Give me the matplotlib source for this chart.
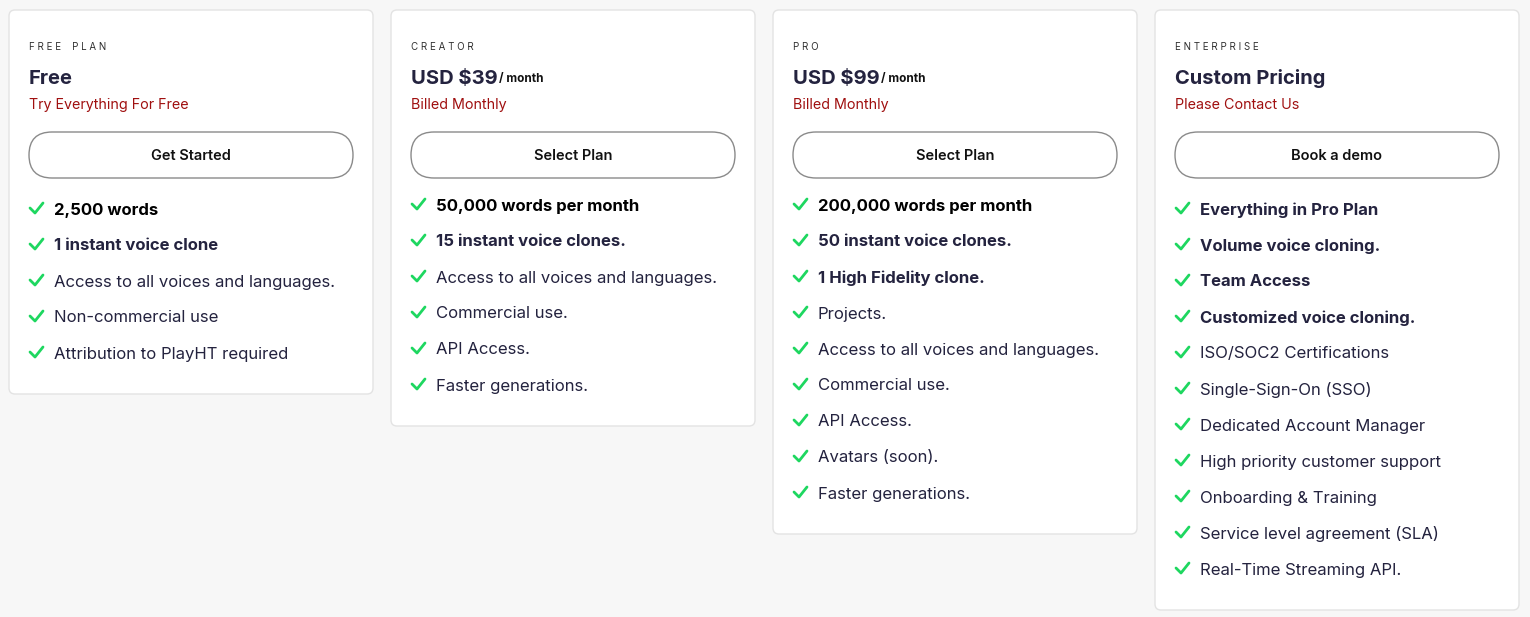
import matplotlib
matplotlib.use("Agg")
import matplotlib.pyplot as plt
from matplotlib.patches import FancyBboxPatch

plan_labels = ["FREE PLAN", "CREATOR", "PRO", "ENTERPRISE"]
prices = ["Free", "USD $39", "USD $99", "Custom Pricing"]
price_suffix = ["", "/ month", "/ month", ""]
subtitles = ["Try Everything For Free", "Billed Monthly", "Billed Monthly", "Please Contact Us"]
buttons = ["Get Started", "Select Plan", "Select Plan", "Book a demo"]
features = [
    ["2,500 words", "1 instant voice clone", "Access to all voices and languages.",
     "Non-commercial use", "Attribution to PlayHT required"],
    ["50,000 words per month", "15 instant voice clones.", "Access to all voices and languages.",
     "Commercial use.", "API Access.", "Faster generations."],
    ["200,000 words per month", "50 instant voice clones.", "1 High Fidelity clone.", "Projects.",
     "Access to all voices and languages.", "Commercial use.", "API Access.",
     "Avatars (soon).", "Faster generations."],
    ["Everything in Pro Plan", "Volume voice cloning.", "Team Access", "Customized voice cloning.",
     "ISO/SOC2 Certifications", "Single-Sign-On (SSO)", "Dedicated Account Manager",
     "High priority customer support", "Onboarding & Training",
     "Service level agreement (SLA)", "Real-Time Streaming API."],
]
bold_counts = [2, 2, 3, 4]
first_row_black = [True, True, True, False]
first_row_y = [209, 205, 205, 209]
card_x = [9, 391, 773, 1155]
card_bottom = [394, 426, 534, 610]

FONT = "Inter"
NAVY = "#24233f"
fig = plt.figure(figsize=(15.3, 6.17), dpi=100)
fig.patch.set_facecolor("#f7f7f7")
ax = fig.add_axes([0, 0, 1, 1])
ax.set_xlim(0, 1530)
ax.set_ylim(617, 0)
ax.axis("off")

W = 364
for i in range(4):
    x0 = card_x[i]
    ax.add_patch(FancyBboxPatch((x0, 10), W, card_bottom[i] - 10,
                                boxstyle="round,pad=0,rounding_size=6",
                                fc="white", ec="#e3e3e3", lw=1))
    tx = x0 + 20
    ax.text(tx, 47, " ".join(plan_labels[i]).replace("   ", "    "),
            fontsize=7, color="#333333", va="center", family=FONT)
    t = ax.text(tx, 79, prices[i], fontsize=14.5, fontweight="bold", color=NAVY,
                va="center", family=FONT)
    if price_suffix[i]:
        ax.annotate(price_suffix[i], xycoords=t, xy=(1, 0.5), xytext=(1, 0),
                    textcoords="offset points", fontsize=8.5, fontweight="bold",
                    color="#111111", va="center", family=FONT)
    ax.text(tx, 105, subtitles[i], fontsize=10.3, color="#a01010", va="center",
            family=FONT)
    ax.add_patch(FancyBboxPatch((x0 + 20, 132), 324, 46,
                                boxstyle="round,pad=0,rounding_size=23",
                                fc="white", ec="#8a8a8a", lw=1))
    ax.text(x0 + 182, 156, buttons[i], fontsize=10.5, fontweight="semibold",
            color="#111111", ha="center", va="center", family=FONT)
    for j, f in enumerate(features[i]):
        y = first_row_y[i] + 36 * j
        cx = x0 + 21
        ax.plot([cx, cx + 5, cx + 13], [y - 1, y + 4, y - 6], color="#1ed760",
                lw=2, solid_capstyle="round", solid_joinstyle="round")
        bold = j < bold_counts[i]
        color = "#000000" if (j == 0 and first_row_black[i]) else NAVY
        ax.text(x0 + 45, y + 1, f, fontsize=12,
                fontweight="bold" if bold else "normal", color=color,
                va="center", family=FONT)

fig.savefig("out.png", dpi=100, facecolor=fig.get_facecolor())
